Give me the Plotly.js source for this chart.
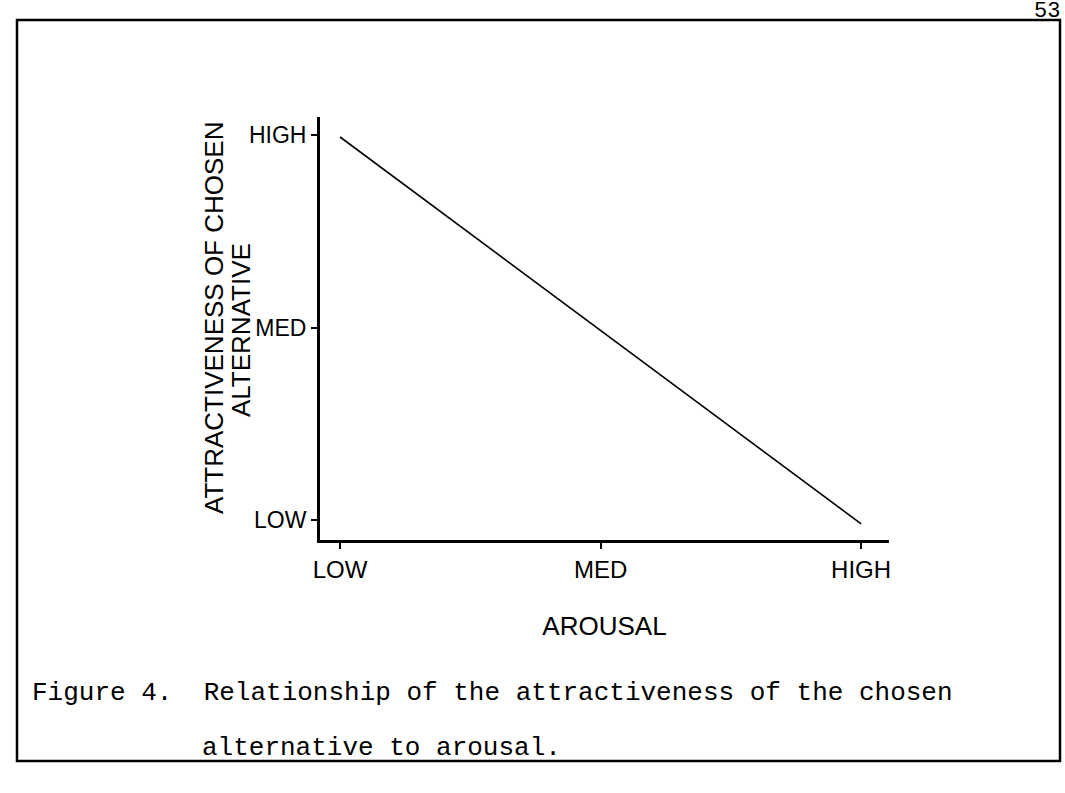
<!DOCTYPE html>
<html>
<head>
<meta charset="utf-8">
<script src="https://cdn.plot.ly/plotly-3.0.1.min.js"></script>
<style>
  html, body { margin: 0; padding: 0; background: #ffffff; }
  #chart { width: 1065px; height: 793px; }
</style>
</head>
<body>
<div id="chart"></div>
<script>
// Levels shared by both axes
const levelLabels = ['LOW', 'MED', 'HIGH'];
const levelValues = [0, 1, 2];

// The single relationship line (arousal -> attractiveness of chosen alternative)
const arousal = [0.0, 2.0];
const attractiveness = [1.99, -0.02];

// Texts
const xTitle = 'AROUSAL';
const yTitleLine1 = 'ATTRACTIVENESS OF CHOSEN';
const yTitleLine2 = 'ALTERNATIVE';
const captionLine1 = 'Figure 4.  Relationship of the attractiveness of the chosen';
const captionLine2 = 'alternative to arousal.';
const pageNumber = '53';

const sans = 'Liberation Sans, Arial, Helvetica, sans-serif';
const mono = 'Liberation Mono, DejaVu Sans Mono, monospace';

const trace = {
  x: arousal,
  y: attractiveness,
  type: 'scatter',
  mode: 'lines',
  line: { color: '#000000', width: 1.6 },
  hoverinfo: 'skip',
  showlegend: false
};

// plot area: x 320..889 px, y 117..540 px
const L = 320, R = 889, T = 117, B = 540;
const px = v => (v - L) / (R - L);
const py = v => (B - v) / (B - T);

const layout = {
  width: 1065,
  height: 793,
  paper_bgcolor: '#ffffff',
  plot_bgcolor: '#ffffff',
  margin: { l: L, r: 1065 - R, t: T, b: 793 - B, pad: 0 },
  showlegend: false,
  font: { family: sans, color: '#000000', size: 24 },
  xaxis: {
    range: [-0.077, 2.107],
    tickvals: levelValues,
    ticktext: levelLabels,
    ticks: 'outside',
    ticklen: 6,
    tickwidth: 2,
    tickcolor: '#000000',
    showline: true,
    linecolor: '#000000',
    linewidth: 3,
    showgrid: false,
    zeroline: false,
    tickfont: { family: sans, size: 24, color: '#000000' },
    title: { text: xTitle, font: { family: sans, size: 26, color: '#000000' }, standoff: 36 },
    automargin: false,
    fixedrange: true
  },
  yaxis: {
    range: [-0.104, 2.094],
    tickvals: levelValues,
    ticktext: levelLabels,
    ticks: 'outside',
    ticklen: 6,
    tickwidth: 2,
    tickcolor: '#000000',
    showline: true,
    linecolor: '#000000',
    linewidth: 3,
    showgrid: false,
    zeroline: false,
    tickfont: { family: sans, size: 23, color: '#000000' },
    automargin: false,
    fixedrange: true
  },
  shapes: [
    {
      type: 'rect', xref: 'paper', yref: 'paper',
      x0: px(17), x1: px(1060), y0: py(761), y1: py(20),
      line: { color: '#000000', width: 2.5 },
      fillcolor: 'rgba(0,0,0,0)',
      layer: 'below'
    }
  ],
  annotations: [
    {
      xref: 'paper', yref: 'paper',
      x: px(214), y: py(318),
      xanchor: 'center', yanchor: 'middle',
      textangle: -90,
      text: yTitleLine1, showarrow: false,
      font: { family: sans, size: 26, color: '#000000' }
    },
    {
      xref: 'paper', yref: 'paper',
      x: px(241), y: py(330),
      xanchor: 'center', yanchor: 'middle',
      textangle: -90,
      text: yTitleLine2, showarrow: false,
      font: { family: sans, size: 26, color: '#000000' }
    },
    {
      xref: 'paper', yref: 'paper',
      x: px(30), y: py(693),
      xanchor: 'left', yanchor: 'middle',
      text: captionLine1, showarrow: false,
      font: { family: mono, size: 26, color: '#000000' }
    },
    {
      xref: 'paper', yref: 'paper',
      x: px(200), y: py(748),
      xanchor: 'left', yanchor: 'middle',
      text: captionLine2, showarrow: false,
      font: { family: mono, size: 26, color: '#000000' }
    },
    {
      xref: 'paper', yref: 'paper',
      x: px(1062), y: py(12),
      xanchor: 'right', yanchor: 'middle',
      text: pageNumber, showarrow: false,
      font: { family: mono, size: 22, color: '#000000' }
    }
  ]
};

Plotly.newPlot('chart', [trace], layout, { staticPlot: true, displayModeBar: false });
</script>
</body>
</html>
